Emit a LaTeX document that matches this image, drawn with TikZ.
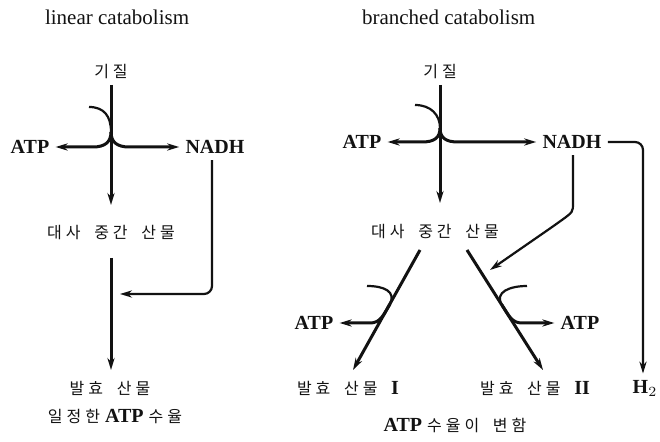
\documentclass[tikz,border=0pt]{standalone}
\usepackage{fontspec}
\setmainfont{Liberation Serif}
\newfontfamily\kr[LetterSpace=25,WordSpace=1.8]{Noto Sans CJK KR}
\usetikzlibrary{arrows.meta,calc}
\definecolor{ink}{RGB}{18,18,18}
\newcommand{\kor}[1]{{\kr\mdseries\fontsize{8}{10}\selectfont #1}}
\newcommand{\romanlabel}[1]{{\rmfamily\bfseries\fontsize{10}{12}\selectfont #1}}
\tikzset{
  heading/.style={font=\fontsize{10.5}{12}\selectfont, text=ink, anchor=base west},
  compound/.style={font=\kr\fontsize{8}{10}\selectfont, text=ink, inner sep=1pt},
  carrier/.style={font=\bfseries\fontsize{10}{12}\selectfont, text=ink, inner sep=3pt},
  flow/.style={-{Stealth[length=6pt,width=3.6pt]}, line width=1.5pt, draw=ink},
  reflow/.style={-{Stealth[length=6pt,width=3.6pt]}, line width=1.1pt, draw=ink, rounded corners=4pt},
  coupling/.style={line width=1.1pt, draw=ink}
}

\begin{document}
\begin{tikzpicture}[x=0.5pt, y=-0.5pt]
  \useasboundingbox (0,0) rectangle (660,442);

  % linear catabolism
  \node[heading] (lintitle) at (38,25) {linear catabolism};
  \node[compound] (sub1) at (111,72) {기질};
  \node[carrier] (atp1) at (30,147) {ATP};
  \node[carrier] (nadh1) at (215,147) {NADH};
  \node[compound] (mid1) at (111,233) {대사 중간 산물};
  \node[compound] (prod1) at (110,388) {발효 산물};
  \node[carrier] (yield1) at (115,417) {\kor{일정한} ATP \kor{수율}};

  \coordinate (arc1) at (89,107);
  \coordinate (j1) at (111,132);
  \draw[flow] ($(sub1)+(0,13)$) -- ($(mid1)+(0,-28)$);
  \draw[coupling] (arc1) .. controls (104,107) and (111,116) .. (j1);
  \draw[flow] (j1) .. controls (111,142) and (105,147) .. (93,147) -- (atp1.east);
  \draw[flow] (j1) .. controls (111,142) and (117,147) .. (129,147) -- (nadh1.west);
  \draw[flow] ($(mid1)+(0,25)$) -- ($(prod1)+(1,-18)$);
  \draw[reflow] ([xshift=-1.5pt]nadh1.south) |- ($(mid1)+(9,61)$);

  % branched catabolism
  \node[heading] (brtitle) at (355,25) {branched catabolism};
  \node[compound] (sub2) at (440,72) {기질};
  \node[carrier] (atp2) at (362,142) {ATP};
  \node[carrier] (nadh2) at (572,142) {NADH};
  \node[compound] (mid2) at (435,232) {대사 중간 산물};
  \node[carrier] (atp3) at (314,323) {ATP};
  \node[carrier] (atp4) at (580,323) {ATP};
  \node[compound] (prod2) at (348,388) {발효 산물 \romanlabel{I}};
  \node[compound] (prod3) at (535,388) {발효 산물 \romanlabel{II}};
  \node[carrier] (h2) at (645,388) {H$_2$};
  \node[carrier] (yield2) at (455,425) {ATP \kor{수율이 변함}};

  \coordinate (arc2) at (415,105);
  \coordinate (j2) at (440,128);
  \draw[flow] ($(sub2)+(0,13)$) -- ($(sub2 |- mid2)+(0,-29)$);
  \draw[coupling] (arc2) .. controls (431,105) and (440,115) .. (j2);
  \draw[flow] (j2) .. controls (440,138) and (434,142) .. (422,142) -- (atp2.east);
  \draw[flow] (j2) .. controls (440,138) and (446,142) .. (458,142) -- (nadh2.west);
  \draw[reflow] (nadh2.east) -| ([xshift=-1pt]h2.north);
  \draw[reflow] ([xshift=0.5pt]nadh2.south) -- (573,195) .. controls (573,212) .. (555,225) -- ($(mid2)+(55,38)$);

  \draw[flow] ($(mid2)+(-15,18)$) -- ($(prod2)+(5,-18)$);
  \draw[flow] ($(mid2)+(32,18)$) -- ($(prod3)+(8,-18)$);

  \coordinate (arc3) at (367,286);
  \coordinate (j3) at (390,304);
  \draw[coupling] (arc3) .. controls (385,286) and (396,292) .. (j3);
  \draw[flow] (j3) .. controls (383,316) and (380,323) .. (370,323) -- (atp3.east);

  \coordinate (arc4) at (527,286);
  \coordinate (j4) at (502,305);
  \draw[coupling] (arc4) .. controls (510,286) and (494,292) .. (j4);
  \draw[flow] (j4) .. controls (509,316) and (512,323) .. (522,323) -- (atp4.west);
\end{tikzpicture}
\end{document}
